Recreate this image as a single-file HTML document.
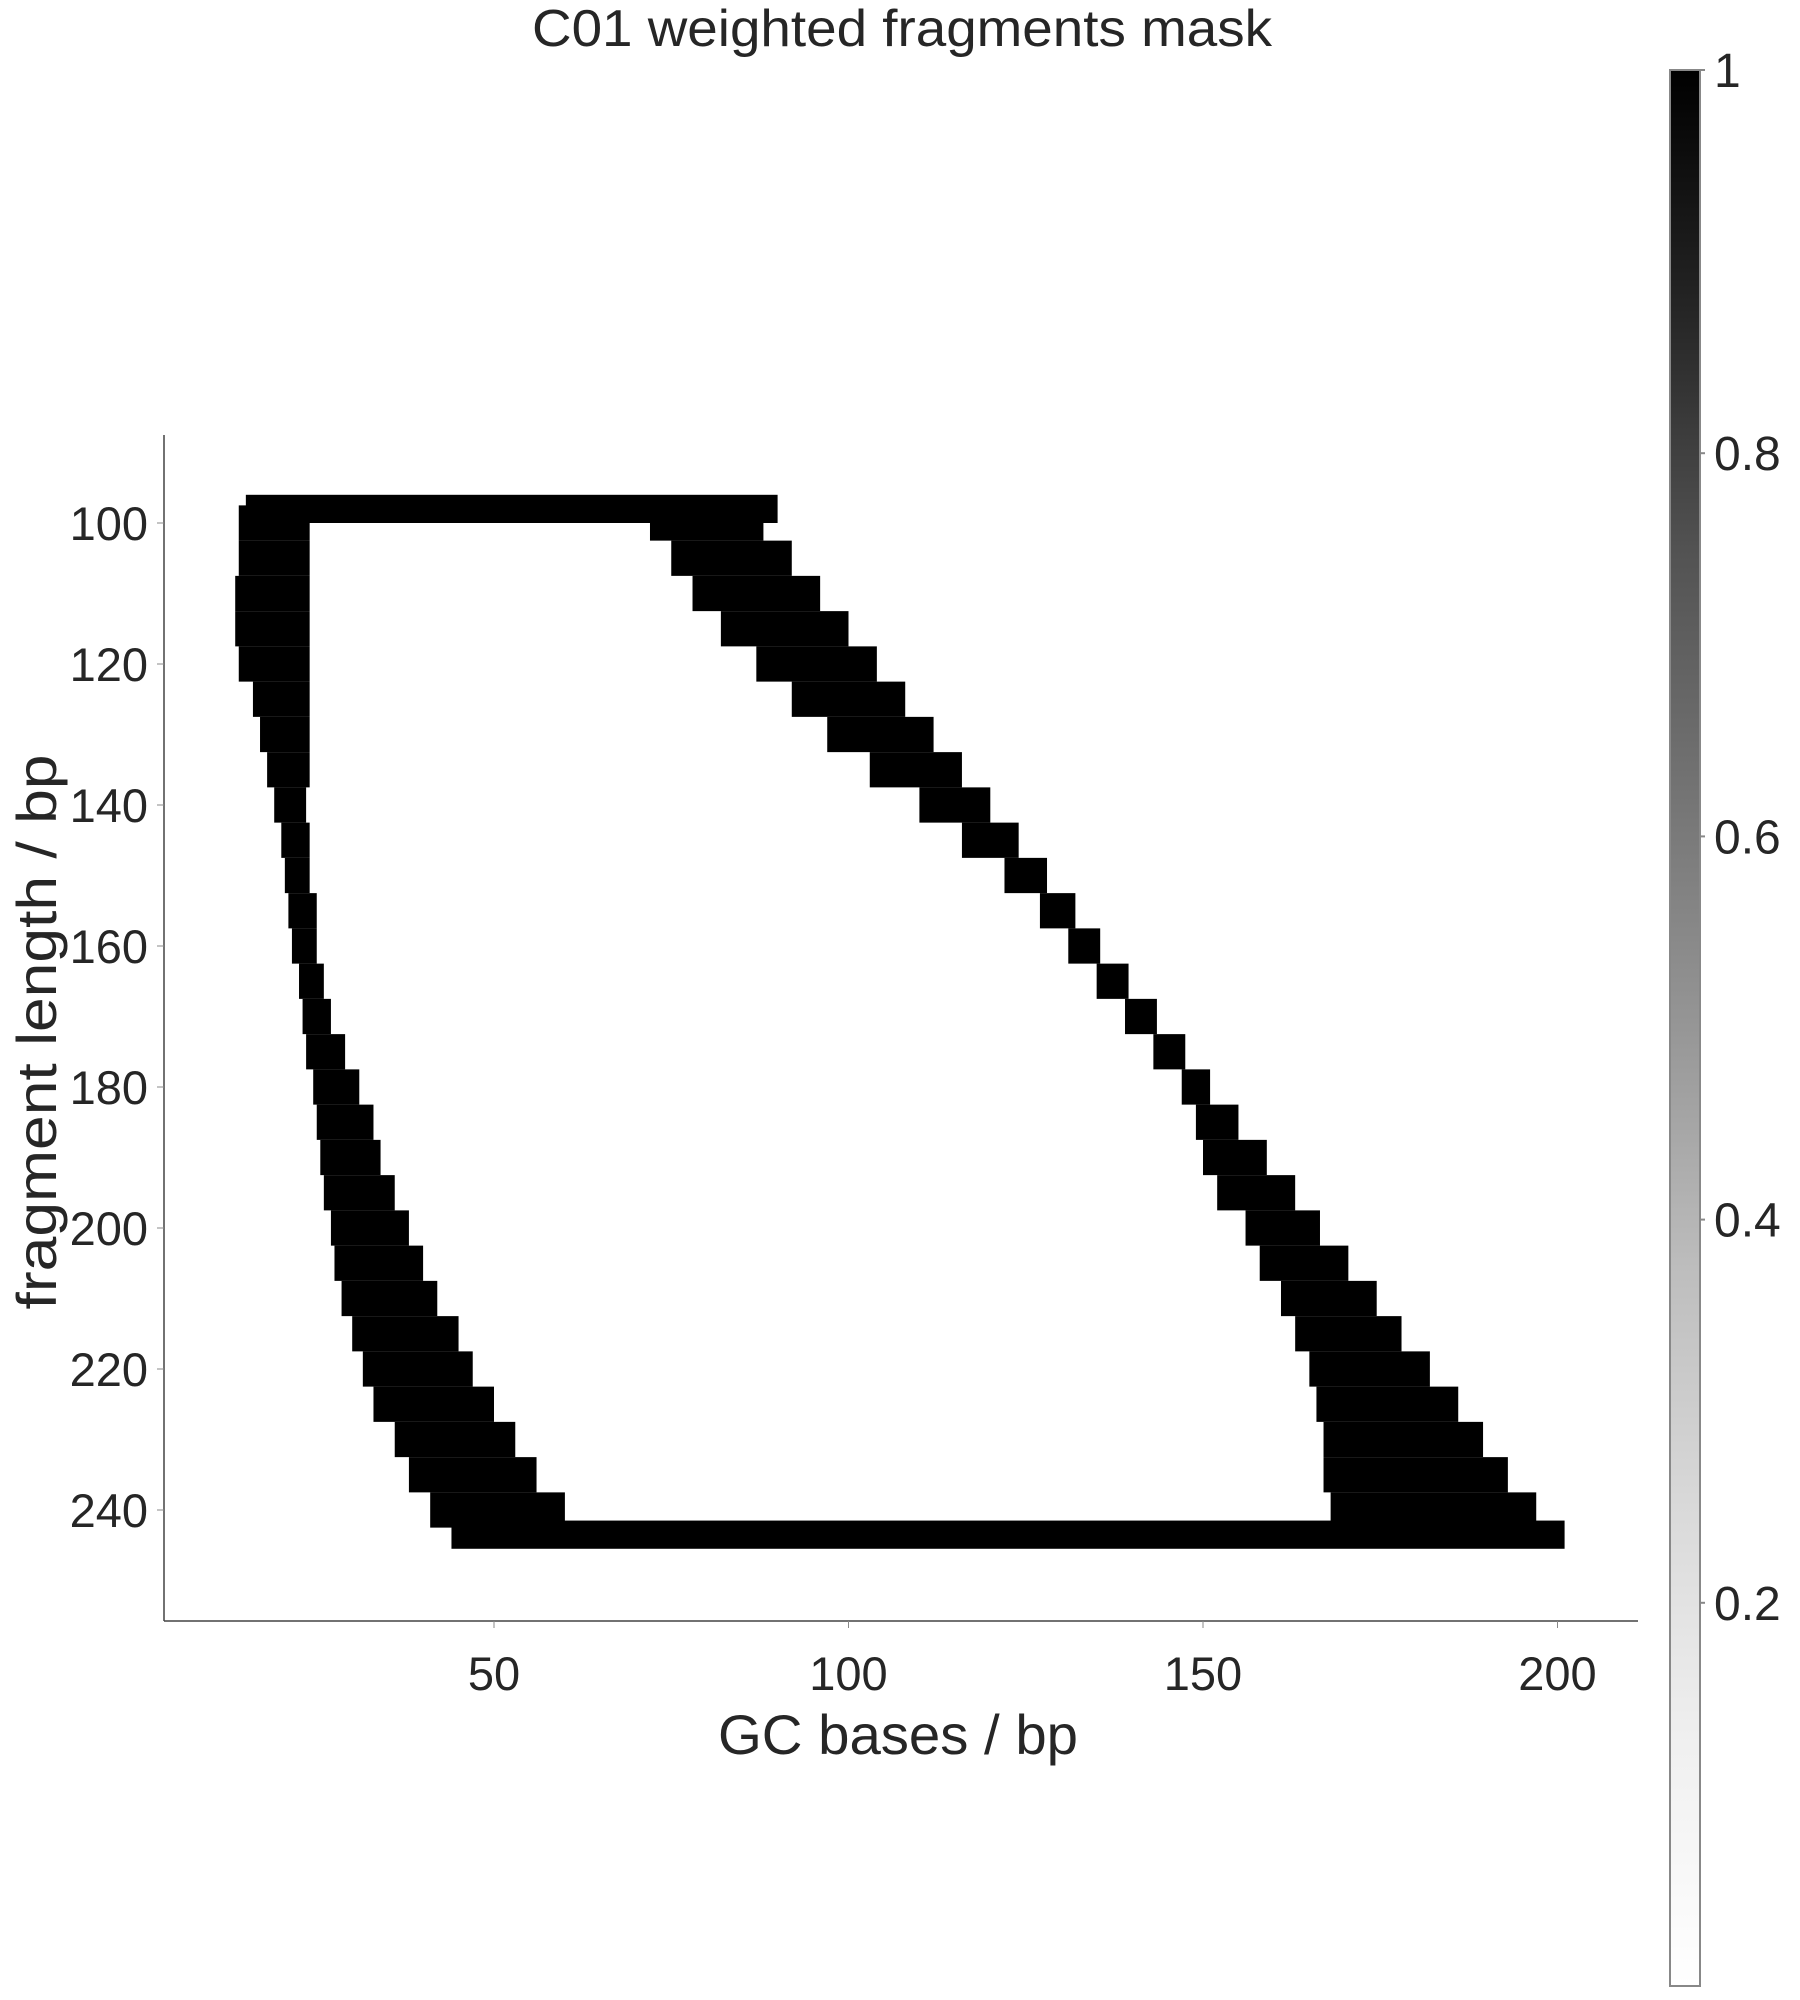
<!DOCTYPE html>
<html><head><meta charset="utf-8">
<style>
html,body{margin:0;padding:0;background:#fff;}
svg{display:block;}
text{font-family:"Liberation Sans","DejaVu Sans",sans-serif;fill:#262626;}
</style></head>
<body>
<svg id="chart" width="1800" height="2000" viewBox="0 0 1800 2000" xmlns="http://www.w3.org/2000/svg">
<defs>
<linearGradient id="greys" x1="0" y1="1" x2="0" y2="0">
<stop offset="0" stop-color="#ffffff"/>
<stop offset="0.125" stop-color="#f0f0f0"/>
<stop offset="0.25" stop-color="#d9d9d9"/>
<stop offset="0.375" stop-color="#bdbdbd"/>
<stop offset="0.5" stop-color="#969696"/>
<stop offset="0.625" stop-color="#737373"/>
<stop offset="0.75" stop-color="#525252"/>
<stop offset="0.875" stop-color="#252525"/>
<stop offset="1" stop-color="#000000"/>
</linearGradient>
</defs>
<text x="902" y="46" text-anchor="middle" font-size="52" textLength="740" lengthAdjust="spacingAndGlyphs">C01 weighted fragments mask</text>
<g id="cells"></g>
<g id="axes"></g>
<rect x="1670" y="70" width="30" height="1916" fill="url(#greys)" stroke="#888" stroke-width="2"/>
<g id="cbar"></g>
<text x="898" y="1754" text-anchor="middle" font-size="56" textLength="360" lengthAdjust="spacingAndGlyphs">GC bases / bp</text>
<text transform="translate(56,1032) rotate(-90)" text-anchor="middle" font-size="56" textLength="555" lengthAdjust="spacingAndGlyphs">fragment length / bp</text>
</svg>
<script>
// data
const rowLengths = [100,105,110,115,120,125,130,135,140,145,150,155,160,165,170,175,180,185,190,195,200,205,210,215,220,225,230,235,240];
const leftBandStart = [14,14,13.5,13.5,14,16,17,18,19,20,20.5,21,21.5,22.5,23,23.5,24.5,25,25.5,26,27,27.5,28.5,30,31.5,33,36,38,41];
const leftBandEnd = [24,24,24,24,24,24,24,24,23.5,24,24,25,25,26,27,29,31,33,34,36,38,40,42,45,47,50,53,56,60];
const rightBandStart = [72,75,78,82,87,92,97,103,110,116,122,127,131,135,139,143,147,149,150,152,156,158,161,163,165,166,167,167,168];
const rightBandEnd = [88,92,96,100,104,108,112,116,120,124,128,132,135.5,139.5,143.5,147.5,151,155,159,163,166.5,170.5,174.5,178,182,186,189.5,193,197];
const edgeRows = [98, 243.5];
const edgeRowStart = [15, 44];
const edgeRowEnd = [90, 201];
const xTicks = [50,100,150,200];
const yTicks = [100,120,140,160,180,200,220,240];
const cbarTicks = [0.2,0.4,0.6,0.8,1];
const cbarLabels = ["0.2","0.4","0.6","0.8","1"];

const NS = "http://www.w3.org/2000/svg";
function xs(v){ return 139.5 + 7.09*v; }
function ys(v){ return 523 + 7.05*(v-100); }
function cs(v){ return 1986 - 1916*v; }
function mk(tag, attrs, parent){ const e=document.createElementNS(NS,tag); for(const k in attrs) e.setAttribute(k,attrs[k]); parent.appendChild(e); return e; }

const cells = document.getElementById('cells');
rowLengths.forEach((L,i)=>{
  const y0 = ys(L-2.5), y1 = ys(L+2.5);
  let r = mk('rect',{x:xs(leftBandStart[i]),y:y0,width:xs(leftBandEnd[i])-xs(leftBandStart[i]),height:y1-y0,fill:'#000'},cells);
  
  
  r = mk('rect',{x:xs(rightBandStart[i]),y:y0,width:xs(rightBandEnd[i])-xs(rightBandStart[i]),height:y1-y0,fill:'#000'},cells);
  
  
});
edgeRows.forEach((L,i)=>{
  const y0 = ys(L-2), y1 = ys(L+2);
  const r = mk('rect',{x:xs(edgeRowStart[i]),y:y0,width:xs(edgeRowEnd[i])-xs(edgeRowStart[i]),height:y1-y0,fill:'#000'},cells);
  
  
});

const axes = document.getElementById('axes');
let l = mk('line',{x1:164,y1:435,x2:164,y2:1621,stroke:'#444','stroke-width':1.5},axes);


l = mk('line',{x1:164,y1:1621,x2:1638,y2:1621,stroke:'#444','stroke-width':1.5},axes);


xTicks.forEach(v=>{
  const t = mk('line',{x1:xs(v),y1:1621,x2:xs(v),y2:1628,stroke:'#888','stroke-width':1},axes);
  
  
  const tx = mk('text',{x:xs(v),y:1690,'text-anchor':'middle','font-size':47},axes);
  tx.textContent = v;
  
  
});
yTicks.forEach(v=>{
  const t = mk('line',{x1:157,y1:ys(v),x2:164,y2:ys(v),stroke:'#888','stroke-width':1},axes);
  
  
  const tx = mk('text',{x:148,y:ys(v)+17,'text-anchor':'end','font-size':47},axes);
  tx.textContent = v;
  
  
});
const cbar = document.getElementById('cbar');
cbarTicks.forEach((v,i)=>{
  const t = mk('line',{x1:1700,y1:cs(v),x2:1705,y2:cs(v),stroke:'#888','stroke-width':2},cbar);
  
  
  const tx = mk('text',{x:1714,y:cs(v)+17,'font-size':48},cbar);
  tx.textContent = cbarLabels[i];
  
  
});
</script>
</body></html>
